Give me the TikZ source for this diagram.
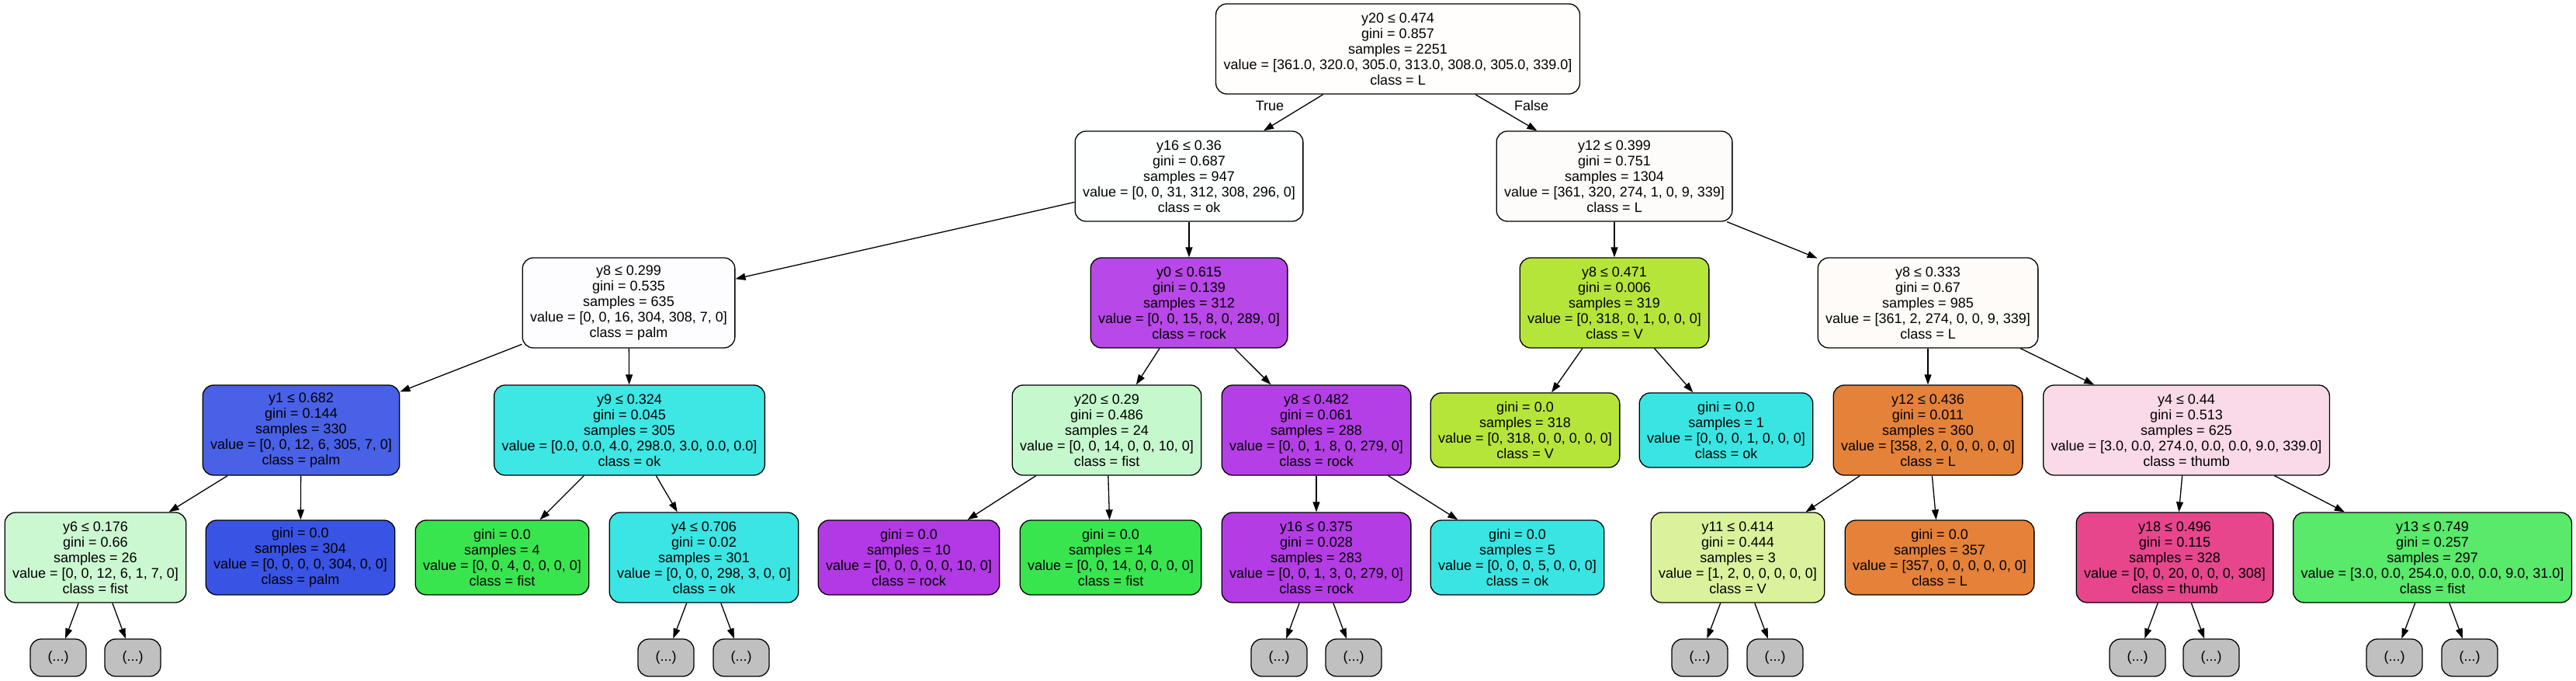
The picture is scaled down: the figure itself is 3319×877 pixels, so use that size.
\documentclass[tikz,border=0pt]{standalone}
\usepackage{fontspec}
\setmainfont{Liberation Sans}
\usepackage{xcolor}
\usetikzlibrary{arrows.meta}

\definecolor{colroot}{HTML}{FFFEFD}
\definecolor{colyA}{HTML}{FEFFFF}
\definecolor{colyB}{HTML}{FEFCFA}
\definecolor{colpalmlt}{HTML}{FDFDFF}
\definecolor{colrockA}{HTML}{B848E7}
\definecolor{colV}{HTML}{B6E539}
\definecolor{colLlt}{HTML}{FEFBF8}
\definecolor{colpalmA}{HTML}{4961E7}
\definecolor{colokA}{HTML}{3EE6E4}
\definecolor{colfistlt}{HTML}{C6F8CD}
\definecolor{colrockB}{HTML}{B43FE6}
\definecolor{colok}{HTML}{39E5E3}
\definecolor{colLA}{HTML}{E5823A}
\definecolor{colthumblt}{HTML}{FADAE8}
\definecolor{colfistltB}{HTML}{CBF8D1}
\definecolor{colpalm}{HTML}{3954E5}
\definecolor{colfist}{HTML}{39E54F}
\definecolor{colokB}{HTML}{3BE5E3}
\definecolor{colrock}{HTML}{B239E5}
\definecolor{colrockC}{HTML}{B33CE5}
\definecolor{colVlt}{HTML}{DAF29C}
\definecolor{colL}{HTML}{E58139}
\definecolor{colthumbA}{HTML}{E7468D}
\definecolor{colfistA}{HTML}{59E96B}
\definecolor{coldots}{HTML}{C0C0C0}

\begin{document}
\begin{tikzpicture}[x=1pt,y=-1pt,
	box/.style={draw, line width=1.3pt, rounded corners=14pt, align=center, inner xsep=10pt, inner ysep=0pt, minimum height=116pt, font=\fontsize{18}{20}\selectfont},
	leaf/.style={box, minimum height=96pt},
	more/.style={box, fill=coldots, inner xsep=0pt, minimum width=72pt, minimum height=48pt},
	edge/.style={-{Triangle[length=13pt,width=9pt]}, line width=1.3pt},
	lbl/.style={font=\fontsize{18}{20}\selectfont}]

	\useasboundingbox (0,0) rectangle (3319,877);

	% depth 0
	\node[box, fill=colroot] (root) at (1801,63) {y20 ≤ 0.474\\gini = 0.857\\samples = 2251\\value = [361.0, 320.0, 305.0, 313.0, 308.0, 305.0, 339.0]\\class = L};
	\node[lbl] (lbltrue) at (1636,136) {True};
	\node[lbl] (lblfalse) at (1973,136) {False};

	% depth 1
	\node[box, fill=colyA] (y16) at (1532,227) {y16 ≤ 0.36\\gini = 0.687\\samples = 947\\value = [0, 0, 31, 312, 308, 296, 0]\\class = ok};
	\node[box, fill=colyB] (y12) at (2080,227) {y12 ≤ 0.399\\gini = 0.751\\samples = 1304\\value = [361, 320, 274, 1, 0, 9, 339]\\class = L};

	% depth 2
	\node[box, fill=colpalmlt] (y8a) at (810,390) {y8 ≤ 0.299\\gini = 0.535\\samples = 635\\value = [0, 0, 16, 304, 308, 7, 0]\\class = palm};
	\node[box, fill=colrockA] (y0) at (1532,390) {y0 ≤ 0.615\\gini = 0.139\\samples = 312\\value = [0, 0, 15, 8, 0, 289, 0]\\class = rock};
	\node[box, fill=colV] (y8b) at (2080,390) {y8 ≤ 0.471\\gini = 0.006\\samples = 319\\value = [0, 318, 0, 1, 0, 0, 0]\\class = V};
	\node[box, fill=colLlt] (y8c) at (2484,390) {y8 ≤ 0.333\\gini = 0.67\\samples = 985\\value = [361, 2, 274, 0, 0, 9, 339]\\class = L};

	% depth 3
	\node[box, fill=colpalmA] (y1) at (388,554) {y1 ≤ 0.682\\gini = 0.144\\samples = 330\\value = [0, 0, 12, 6, 305, 7, 0]\\class = palm};
	\node[box, fill=colokA] (y9) at (811,554) {y9 ≤ 0.324\\gini = 0.045\\samples = 305\\value = [0.0, 0.0, 4.0, 298.0, 3.0, 0.0, 0.0]\\class = ok};
	\node[box, fill=colfistlt] (y20) at (1426,554) {y20 ≤ 0.29\\gini = 0.486\\samples = 24\\value = [0, 0, 14, 0, 0, 10, 0]\\class = fist};
	\node[box, fill=colrockB] (y8d) at (1696,554) {y8 ≤ 0.482\\gini = 0.061\\samples = 288\\value = [0, 0, 1, 8, 0, 279, 0]\\class = rock};
	\node[leaf, fill=colV] (leafV) at (1965,554) {gini = 0.0\\samples = 318\\value = [0, 318, 0, 0, 0, 0, 0]\\class = V};
	\node[leaf, fill=colok] (leafok) at (2224,554) {gini = 0.0\\samples = 1\\value = [0, 0, 0, 1, 0, 0, 0]\\class = ok};
	\node[box, fill=colLA] (y12b) at (2484,554) {y12 ≤ 0.436\\gini = 0.011\\samples = 360\\value = [358, 2, 0, 0, 0, 0, 0]\\class = L};
	\node[box, fill=colthumblt] (y4) at (2817,554) {y4 ≤ 0.44\\gini = 0.513\\samples = 625\\value = [3.0, 0.0, 274.0, 0.0, 0.0, 9.0, 339.0]\\class = thumb};

	% depth 4
	\node[box, fill=colfistltB] (y6) at (123,718) {y6 ≤ 0.176\\gini = 0.66\\samples = 26\\value = [0, 0, 12, 6, 1, 7, 0]\\class = fist};
	\node[leaf, fill=colpalm] (leafpalm) at (387,718) {gini = 0.0\\samples = 304\\value = [0, 0, 0, 0, 304, 0, 0]\\class = palm};
	\node[leaf, fill=colfist] (leaffist) at (647,718) {gini = 0.0\\samples = 4\\value = [0, 0, 4, 0, 0, 0, 0]\\class = fist};
	\node[box, fill=colokB] (y4b) at (907,718) {y4 ≤ 0.706\\gini = 0.02\\samples = 301\\value = [0, 0, 0, 298, 3, 0, 0]\\class = ok};
	\node[leaf, fill=colrock] (leafrock) at (1171,718) {gini = 0.0\\samples = 10\\value = [0, 0, 0, 0, 0, 10, 0]\\class = rock};
	\node[leaf, fill=colfist] (leaffistb) at (1431,718) {gini = 0.0\\samples = 14\\value = [0, 0, 14, 0, 0, 0, 0]\\class = fist};
	\node[box, fill=colrockC] (y16b) at (1696,718) {y16 ≤ 0.375\\gini = 0.028\\samples = 283\\value = [0, 0, 1, 3, 0, 279, 0]\\class = rock};
	\node[leaf, fill=colok] (leafokb) at (1955,718) {gini = 0.0\\samples = 5\\value = [0, 0, 0, 5, 0, 0, 0]\\class = ok};
	\node[box, fill=colVlt] (y11) at (2239,718) {y11 ≤ 0.414\\gini = 0.444\\samples = 3\\value = [1, 2, 0, 0, 0, 0, 0]\\class = V};
	\node[leaf, fill=colL] (leafL) at (2499,718) {gini = 0.0\\samples = 357\\value = [357, 0, 0, 0, 0, 0, 0]\\class = L};
	\node[box, fill=colthumbA] (y18) at (2802,718) {y18 ≤ 0.496\\gini = 0.115\\samples = 328\\value = [0, 0, 20, 0, 0, 0, 308]\\class = thumb};
	\node[box, fill=colfistA] (y13) at (3134,718) {y13 ≤ 0.749\\gini = 0.257\\samples = 297\\value = [3.0, 0.0, 254.0, 0.0, 0.0, 9.0, 31.0]\\class = fist};

	% truncated
	\node[more] (dotsA) at (75,847) {(...)};
	\node[more] (dotsB) at (171,847) {(...)};
	\node[more] (dotsC) at (858,847) {(...)};
	\node[more] (dotsD) at (955,847) {(...)};
	\node[more] (dotsE) at (1648,847) {(...)};
	\node[more] (dotsF) at (1744,847) {(...)};
	\node[more] (dotsG) at (2190,847) {(...)};
	\node[more] (dotsH) at (2287,847) {(...)};
	\node[more] (dotsI) at (2754,847) {(...)};
	\node[more] (dotsJ) at (2849,847) {(...)};
	\node[more] (dotsK) at (3085,847) {(...)};
	\node[more] (dotsL) at (3182,847) {(...)};

	\draw[edge] (root) -- (y16);
	\draw[edge] (root) -- (y12);

	\draw[edge] (y16) -- (y8a);
	\draw[edge] (y16) -- (y0);
	\draw[edge] (y12) -- (y8b);
	\draw[edge] (y12) -- (y8c);

	\draw[edge] (y8a) -- (y1);
	\draw[edge] (y8a) -- (y9);
	\draw[edge] (y0) -- (y20);
	\draw[edge] (y0) -- (y8d);
	\draw[edge] (y8b) -- (leafV);
	\draw[edge] (y8b) -- (leafok);
	\draw[edge] (y8c) -- (y12b);
	\draw[edge] (y8c) -- (y4);

	\draw[edge] (y1) -- (y6);
	\draw[edge] (y1) -- (leafpalm);
	\draw[edge] (y9) -- (leaffist);
	\draw[edge] (y9) -- (y4b);
	\draw[edge] (y20) -- (leafrock);
	\draw[edge] (y20) -- (leaffistb);
	\draw[edge] (y8d) -- (y16b);
	\draw[edge] (y8d) -- (leafokb);
	\draw[edge] (y12b) -- (y11);
	\draw[edge] (y12b) -- (leafL);
	\draw[edge] (y4) -- (y18);
	\draw[edge] (y4) -- (y13);

	\draw[edge] (y6) -- (dotsA);
	\draw[edge] (y6) -- (dotsB);
	\draw[edge] (y4b) -- (dotsC);
	\draw[edge] (y4b) -- (dotsD);
	\draw[edge] (y16b) -- (dotsE);
	\draw[edge] (y16b) -- (dotsF);
	\draw[edge] (y11) -- (dotsG);
	\draw[edge] (y11) -- (dotsH);
	\draw[edge] (y18) -- (dotsI);
	\draw[edge] (y18) -- (dotsJ);
	\draw[edge] (y13) -- (dotsK);
	\draw[edge] (y13) -- (dotsL);

\end{tikzpicture}
\end{document}
